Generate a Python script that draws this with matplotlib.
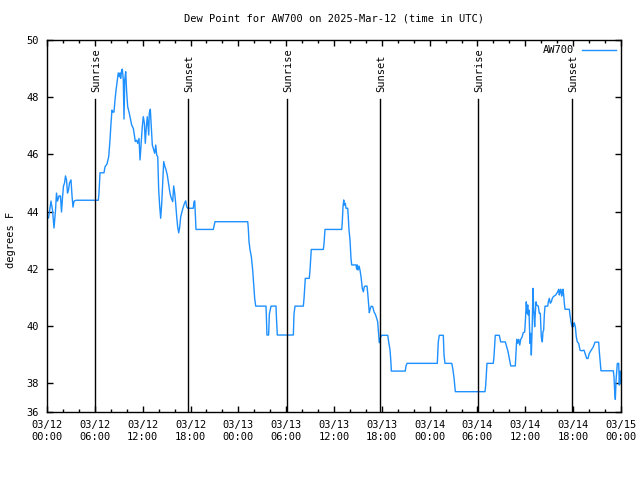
import matplotlib
matplotlib.use("Agg")
import matplotlib.pyplot as plt
from matplotlib.ticker import MultipleLocator, FixedLocator

# hours since 2025-03-12 00:00 UTC and dew point (F)
hours = [0.06, 0.19, 0.25, 0.50, 0.69, 0.88, 1.07, 1.19, 1.32, 1.51, 1.69, 1.82, 1.94, 2.07,
         2.20, 2.32, 2.45, 2.57, 2.70, 2.82, 3.01, 3.14, 3.26, 3.39, 3.64, 6.44, 6.52, 6.65,
         7.15, 7.28, 7.53, 7.74, 7.90, 8.03, 8.15, 8.28, 8.40, 8.53, 8.66, 8.82, 8.94, 9.07,
         9.16, 9.24, 9.37, 9.45, 9.57, 9.66, 9.75, 9.87, 10.00, 10.12, 10.32, 10.50, 10.62,
         10.83, 10.95, 11.08, 11.25, 11.38, 11.54, 11.67, 11.79, 11.95, 12.08, 12.21, 12.33,
         12.46, 12.58, 12.76, 12.83, 12.96, 13.08, 13.21, 13.33, 13.51, 13.64, 13.76, 13.89,
         14.01, 14.14, 14.26, 14.39, 14.51, 14.64, 14.80, 14.93, 15.09, 15.27, 15.43, 15.59,
         15.77, 15.89, 16.02, 16.14, 16.27, 16.39, 16.52, 16.65, 16.77, 16.93, 17.10, 17.27,
         17.40, 17.52, 17.65, 18.35, 18.44, 18.53, 18.69, 20.86, 21.07, 25.18, 25.25, 25.34,
         25.46, 25.63, 25.80, 25.93, 26.05, 26.18, 27.47, 27.51, 27.59, 27.80, 27.89, 28.10,
         28.73, 28.76, 28.89, 30.90, 30.98, 31.11, 32.15, 32.24, 32.40, 32.90, 32.99, 33.15,
         34.66, 34.75, 34.87, 36.97, 37.04, 37.13, 37.22, 37.29, 37.42, 37.51, 37.72, 37.79,
         37.88, 38.01, 38.13, 38.22, 38.76, 38.85, 38.92, 39.01, 39.14, 39.26, 39.39, 39.55,
         39.68, 39.80, 39.93, 40.14, 40.23, 40.36, 40.43, 40.55, 40.68, 40.86, 41.02, 41.18,
         41.36, 41.48, 41.56, 41.68, 41.86, 41.98, 42.74, 42.86, 43.03, 43.15, 43.19, 44.94,
         45.03, 45.16, 48.96, 49.08, 49.21, 49.71, 49.80, 49.92, 50.77, 50.89, 51.05, 51.22,
         54.94, 55.03, 55.19, 55.98, 56.07, 56.23, 56.73, 56.91, 57.49, 57.66, 57.83, 57.99,
         58.17, 58.74, 58.83, 58.92, 59.04, 59.17, 59.30, 59.42, 59.58, 59.74, 59.92, 60.00,
         60.12, 60.21, 60.30, 60.37, 60.46, 60.58, 60.67, 60.75, 60.87, 60.96, 61.05, 61.17,
         61.25, 61.34, 61.42, 61.63, 61.75, 61.88, 62.00, 62.13, 62.21, 62.30, 62.38, 62.47,
         62.81, 62.88, 63.01, 63.13, 63.26, 63.38, 63.51, 63.81, 64.06, 64.19, 64.26, 64.35,
         64.44, 64.56, 64.64, 64.73, 64.81, 64.89, 64.98, 65.52, 65.60, 65.73, 65.85, 65.94,
         66.02, 66.14, 66.27, 66.39, 66.52, 66.69, 66.86, 67.07, 67.36, 67.52, 67.70, 67.86,
         67.99, 68.15, 68.33, 68.53, 68.74, 69.20, 69.28, 69.37, 69.49, 71.04, 71.12, 71.21,
         71.29, 71.38, 71.46, 71.54, 71.71, 71.79, 71.88, 71.97]
dewpt = [43.78, 43.78, 43.88, 44.37, 44.06, 43.43, 44.06, 44.65, 44.37, 44.55, 44.55, 43.99, 44.48, 44.90,
         45.00, 45.25, 45.11, 44.65, 44.76, 45.00, 45.11, 44.55, 44.16, 44.37, 44.40, 44.40, 44.64, 45.36,
         45.36, 45.57, 45.67, 45.92, 46.50, 47.10, 47.55, 47.48, 47.48, 47.90, 48.25, 48.60, 48.85, 48.72,
         48.85, 48.66, 48.95, 48.98, 48.60, 47.24, 48.60, 48.89, 48.15, 47.67, 47.44, 47.20, 47.03,
         46.91, 46.68, 46.45, 46.50, 46.39, 46.56, 45.81, 46.33, 46.97, 47.32, 47.10, 46.39,
         46.97, 47.32, 46.68, 47.44, 47.58, 46.97, 46.33, 46.21, 46.04, 46.33, 45.98, 45.92,
         44.76, 44.17, 43.77, 44.29, 44.99, 45.75, 45.57, 45.46, 45.28, 44.93, 44.64, 44.47,
         44.35, 44.90, 44.64, 44.29, 43.82, 43.47, 43.26, 43.47, 43.82, 44.00, 44.17, 44.31,
         44.38, 44.17, 44.12, 44.12, 44.35, 44.38, 43.38, 43.38, 43.65, 43.65, 43.42, 42.95,
         42.68, 42.43, 41.96, 41.44, 40.97, 40.70, 40.70, 40.42, 39.69, 39.69, 40.42, 40.70,
         40.70, 40.42, 39.69, 39.69, 40.42, 40.70, 40.70, 40.97, 41.67, 41.67, 41.96, 42.68,
         42.68, 42.89, 43.38, 43.38, 43.65, 44.17, 44.41, 44.23, 44.29, 44.12, 44.12, 43.82,
         43.36, 43.01, 42.37, 42.14, 42.14, 41.99, 42.14, 41.96, 42.10, 41.96, 41.73, 41.32,
         41.20, 41.38, 41.40, 41.40, 41.15, 40.68, 40.47, 40.62, 40.70, 40.68, 40.50, 40.42,
         40.27, 40.15, 39.86, 39.42, 39.63, 39.68, 39.68, 39.45, 39.16, 38.70, 38.43, 38.43,
         38.61, 38.70, 38.70, 39.45, 39.68, 39.68, 38.99, 38.70, 38.70, 38.53, 38.21, 37.71,
         37.71, 37.94, 38.70, 38.70, 38.95, 39.68, 39.68, 39.45, 39.45, 39.28, 39.11, 38.87,
         38.61, 38.61, 39.05, 39.54, 39.40, 39.54, 39.34, 39.54, 39.61, 39.77, 39.80, 40.15,
         40.85, 40.45, 40.74, 40.39, 40.56, 39.40, 39.75, 38.99, 40.10, 41.32, 40.62, 39.98,
         40.45, 40.85, 40.74, 40.70, 40.45, 40.45, 39.63, 39.45, 39.80, 39.86, 40.39, 40.70,
         40.70, 40.85, 40.97, 40.80, 40.85, 40.97, 41.03, 41.09, 41.20, 41.29, 41.09, 41.20,
         41.29, 41.05, 41.20, 41.29, 41.09, 40.80, 40.59, 40.59, 40.39, 40.15, 39.98, 40.10,
         39.98, 40.12, 39.98, 39.63, 39.45, 39.40, 39.16, 39.14, 39.16, 39.02, 38.87, 38.87,
         39.02, 39.11, 39.19, 39.28, 39.44, 39.44, 39.11, 38.82, 38.44, 38.44, 38.23, 37.71,
         37.44, 38.12, 38.41, 38.70, 38.70, 37.94, 38.43, 38.00]

sun_hours = [6.06, 17.72, 30.08, 41.75, 54.10, 65.85]
sun_labels = ["Sunrise", "Sunset", "Sunrise", "Sunset", "Sunrise", "Sunset"]

xtick_labels = ["03/12\n00:00", "03/12\n06:00", "03/12\n12:00", "03/12\n18:00",
                "03/13\n00:00", "03/13\n06:00", "03/13\n12:00", "03/13\n18:00",
                "03/14\n00:00", "03/14\n06:00", "03/14\n12:00", "03/14\n18:00",
                "03/15\n00:00"]
ytick_pos = [37.0, 38, 40, 42, 44, 46, 48, 50]
ytick_labels = ["36", "38", "40", "42", "44", "46", "48", "50"]

plt.rcParams['font.family'] = ['DejaVu Sans Mono']
plt.rcParams['font.size'] = 7.5

fig = plt.figure(figsize=(6.4, 4.8), dpi=100)
ax = fig.add_axes([47 / 640, 68 / 480, 574 / 640, 372 / 480])

ax.plot(hours, dewpt, color='#1e90ff', linewidth=1.0, label='AW700')

for h, lab in zip(sun_hours, sun_labels):
    ax.plot([h, h], [37.0, 37.0 + 0.841 * 13.0], color='black', linewidth=1.0)
    ax.text(h + 0.15, 37.0 + 0.86 * 13.0, lab, rotation=90, ha='center', va='bottom')

ax.set_xlim(0, 72)
ax.set_ylim(37.0, 50)
ax.set_xticks(range(0, 73, 6))
ax.set_xticklabels(xtick_labels)
ax.xaxis.set_minor_locator(MultipleLocator(2))
ax.yaxis.set_major_locator(FixedLocator(ytick_pos))
ax.set_yticklabels(ytick_labels)
ax.tick_params(which='both', direction='in', top=True, right=True, width=1.0)
ax.tick_params(which='major', length=4.5, pad=6)
ax.tick_params(which='minor', length=2.5)
for s in ax.spines.values():
    s.set_linewidth(1.0)

ax.set_title('Dew Point for AW700 on 2025-Mar-12 (time in UTC)', fontsize=7.5, pad=13)
fig.text(11 / 640, 0.5, 'degrees F', rotation=90, ha='center', va='center')
ax.legend(loc='upper right', frameon=False, markerfirst=False, handlelength=3.2,
          borderaxespad=0.1, fontsize=7.5)

fig.savefig('out.png', dpi=100)
